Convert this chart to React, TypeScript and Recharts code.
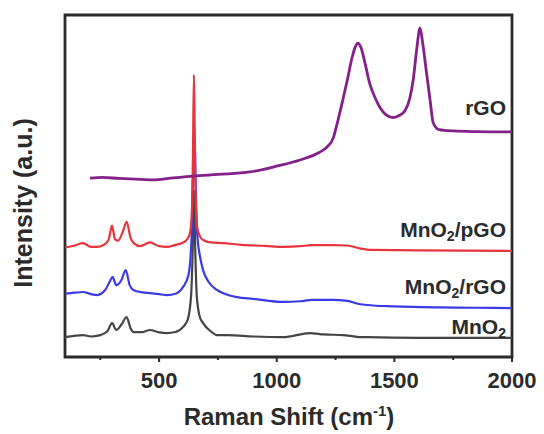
import React from "react";
import { LineChart, Line, XAxis, YAxis, ReferenceArea } from "recharts";

// Raman spectra (stacked with vertical offsets), wavenumber in cm^-1
const mno2Shift = [100, 140, 177, 210, 250, 280, 300, 318, 340, 362, 378, 392, 430, 461, 500, 534, 570, 602, 622, 636, 643, 648, 653, 660, 672, 687, 720, 746, 793, 900, 1027, 1141, 1200, 1282, 1340, 1384, 1600, 2000];
const mno2Intensity = [5.8, 6.2, 6.4, 6.0, 6.4, 7.5, 9.9, 7.9, 9.5, 11.7, 8.5, 7.3, 7.3, 7.9, 7.2, 7.0, 7.3, 8.8, 11, 18, 32, 48.8, 33, 18, 12, 9.9, 7.5, 6.4, 6.4, 6.0, 5.8, 7.0, 6.6, 6.4, 5.9, 5.8, 5.6, 5.6];

const mno2RgoShift = [100, 140, 177, 210, 236, 270, 290, 302, 318, 340, 358, 375, 390, 430, 461, 500, 534, 570, 602, 625, 638, 645, 650, 655, 662, 675, 687, 710, 746, 800, 831, 900, 1027, 1100, 1150, 1239, 1300, 1350, 1384, 1500, 1700, 1850, 2000];
const mno2RgoIntensity = [18.5, 18.8, 19.0, 18.4, 18.1, 19.5, 22.0, 23.4, 21.0, 22.5, 25.4, 21, 19.6, 18.9, 18.7, 18.4, 18.1, 18.5, 20.5, 24, 35, 55, 67, 52, 36, 29, 25.4, 22, 19.6, 18.0, 17.5, 17.0, 16.1, 16.3, 16.7, 16.7, 16.4, 15.5, 15.2, 14.8, 14.5, 14.4, 14.3];

const mno2PgoShift = [100, 140, 177, 210, 236, 265, 285, 300, 312, 325, 345, 362, 378, 392, 420, 461, 500, 534, 570, 600, 620, 632, 640, 644, 648, 652, 656, 662, 672, 687, 720, 772, 850, 950, 1027, 1100, 1150, 1239, 1300, 1350, 1400, 1600, 1800, 2000];
const mno2PgoIntensity = [32.0, 32.6, 33.3, 32.2, 32.2, 32.8, 34.2, 38.4, 34.5, 34.0, 36.5, 39.5, 35, 33.3, 32.4, 33.5, 32.4, 32.2, 32.8, 33.4, 34.5, 36.5, 44, 60, 82.5, 62, 45, 38, 35.5, 34.2, 33.5, 33.3, 32.8, 32.5, 32.2, 32.4, 32.7, 32.7, 32.6, 31.8, 31.3, 31.2, 31.1, 31.0];

const rgoShift = [206, 260, 330, 400, 474, 550, 644, 750, 886, 1000, 1099, 1180, 1214, 1240, 1256, 1282, 1300, 1320, 1335, 1345, 1358, 1375, 1395, 1420, 1440, 1465, 1494, 1520, 1545, 1565, 1580, 1595, 1609, 1620, 1635, 1652, 1665, 1690, 1750, 1850, 2000];
const rgoIntensity = [52.3, 52.5, 52.2, 52.0, 51.8, 52.3, 52.9, 53.4, 54.1, 55.8, 57.6, 59.8, 61.4, 64, 68, 75.5, 81, 87.5, 90.8, 91.8, 90.5, 86, 80, 75.5, 72.8, 70.8, 70.0, 70.6, 72, 75.5, 81, 90, 96.2, 92, 84, 75, 68.5, 66.5, 66.1, 65.9, 65.8];

const xTicks = [250, 500, 750, 1000, 1250, 1500, 1750, 2000];
const labeledTicks = [500, 1000, 1500, 2000];

const toRows = (xs: number[], ys: number[]) => xs.map((s, i) => ({ shift: s, v: ys[i] }));

const FONT = '"Liberation Sans", Arial, sans-serif';
const INK = "#2b2b2b";

const Tick = (props: any) => {
  const { x, y, payload } = props;
  const major = labeledTicks.includes(payload.value);
  return (
    <g>
      <line x1={x} x2={x} y1={y} y2={y + (major ? 5 : 3)} stroke={INK} strokeWidth={2} />
      {major && (
        <text x={x} y={y + 31} textAnchor="middle" fontFamily={FONT} fontWeight="bold" fontSize={22} fill={INK}>
          {payload.value}
        </text>
      )}
    </g>
  );
};

const seriesLabel: React.CSSProperties = {
  position: "absolute",
  right: 38,
  fontFamily: FONT,
  fontWeight: "bold",
  fontSize: 21,
  color: INK,
  lineHeight: "20px",
  whiteSpace: "nowrap",
};

const sub2: React.CSSProperties = { fontSize: 14, verticalAlign: "-4px", lineHeight: 0 };

export default function App() {
  return (
    <div style={{ position: "absolute", left: 0, top: 0, width: 544, height: 434, background: "#fff" }}>
      <LineChart width={544} height={434} margin={{ top: 15, right: 32, left: 65, bottom: 0 }}>
        <XAxis
          type="number"
          dataKey="shift"
          domain={[100, 2000]}
          ticks={xTicks}
          allowDataOverflow
          height={77}
          tickSize={0}
          tickMargin={0}
          tickLine={false}
          axisLine={false}
          tick={<Tick />}
          interval={0}
        />
        <YAxis type="number" domain={[0, 100]} hide allowDataOverflow />
        <Line data={toRows(mno2Shift, mno2Intensity)} dataKey="v" type="monotone" stroke="#454545" strokeWidth={2.2} dot={false} isAnimationActive={false} />
        <Line data={toRows(mno2RgoShift, mno2RgoIntensity)} dataKey="v" type="monotone" stroke="#3a3ae6" strokeWidth={2.2} dot={false} isAnimationActive={false} />
        <Line data={toRows(mno2PgoShift, mno2PgoIntensity)} dataKey="v" type="monotone" stroke="#e8343c" strokeWidth={2.2} dot={false} isAnimationActive={false} />
        <Line data={toRows(rgoShift, rgoIntensity)} dataKey="v" type="monotone" stroke="#84208a" strokeWidth={2.8} dot={false} isAnimationActive={false} />
        <ReferenceArea x1={100} x2={2000} y1={0} y2={100} fill="none" stroke={INK} strokeWidth={2.8} ifOverflow="visible" />
      </LineChart>

      <div style={{ ...seriesLabel, top: 98 }}>rGO</div>
      <div style={{ ...seriesLabel, top: 220 }}>
        MnO<sub style={sub2}>2</sub>/pGO
      </div>
      <div style={{ ...seriesLabel, top: 277 }}>
        MnO<sub style={sub2}>2</sub>/rGO
      </div>
      <div style={{ ...seriesLabel, top: 317 }}>
        MnO<sub style={sub2}>2</sub>
      </div>

      <div
        style={{
          position: "absolute",
          left: 289,
          top: 417,
          transform: "translate(-50%, -50%)",
          fontFamily: FONT,
          fontWeight: "bold",
          fontSize: 24,
          color: INK,
          whiteSpace: "nowrap",
          lineHeight: "26px",
        }}
      >
        Raman Shift (cm<sup style={{ fontSize: 15, verticalAlign: "9px", lineHeight: 0 }}>-1</sup>)
      </div>

      <div
        style={{
          position: "absolute",
          left: 23,
          top: 203,
          transform: "translate(-50%, -50%) rotate(-90deg)",
          fontFamily: FONT,
          fontWeight: "bold",
          fontSize: 25,
          color: INK,
          whiteSpace: "nowrap",
          lineHeight: "26px",
        }}
      >
        Intensity (a.u.)
      </div>
    </div>
  );
}
